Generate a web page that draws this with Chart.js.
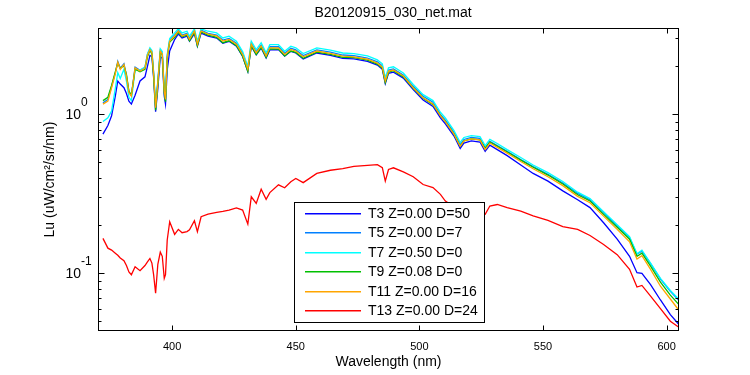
<!DOCTYPE html>
<html>
<head>
<meta charset="utf-8">
<script src="https://cdn.jsdelivr.net/npm/chart.js"></script>
<style>
html, body { margin: 0; padding: 0; background: #fff; }
#wrap { width: 750px; height: 375px; }
</style>
</head>
<body>
<div id="wrap"><canvas id="myChart"></canvas></div>
<script>
const chartTitle = 'B20120915_030_net.mat';

const wavelengths = [
    372, 374, 375.5, 377, 378, 379, 380.5, 381.5, 382.5, 383.5,
    385, 387, 389, 390, 391, 391.8, 392.5, 393.3, 394.2, 395.2,
    396, 396.8, 397.3, 398, 399, 401, 402.5, 404, 406, 407,
    409, 410.2, 411.7, 414.5, 418, 420.5, 423, 426, 428.5, 430.6,
    432, 434, 436, 438, 439.5, 443, 445.5, 448, 450, 453,
    458.5, 464, 469, 473.5, 479, 483, 485, 486.2, 487.5, 489.5,
    493.5, 497.5, 501.5, 505.5, 508.5, 510.5, 514, 516.5, 518, 521,
    524.5, 526.6, 528.5, 531.5, 535.5, 541, 546, 552, 558, 564,
    569, 574.5, 580, 585, 588, 590, 593.5, 597.5, 601.5, 604.8
];

const t3 = [
    0.75, 0.85, 0.98, 1.30, 1.62, 1.55, 1.47, 1.35, 1.21, 1.16,
    1.32, 1.62, 1.72, 2.00, 2.35, 2.30, 1.70, 1.04, 1.45, 2.30,
    2.25, 1.30, 1.16, 1.90, 2.50, 2.95, 3.20, 3.02, 3.10, 2.88,
    3.22, 2.68, 3.24, 3.10, 3.02, 2.80, 2.88, 2.68, 2.31, 1.86,
    2.68, 2.37, 2.61, 2.26, 2.54, 2.55, 2.32, 2.49, 2.43, 2.23,
    2.43, 2.35, 2.25, 2.23, 2.15, 2.04, 1.92, 1.56, 1.81, 1.84,
    1.69, 1.43, 1.23, 1.12, 0.95, 0.87, 0.73, 0.61, 0.66, 0.68,
    0.67, 0.585, 0.64, 0.60, 0.55, 0.48, 0.425, 0.38, 0.33, 0.29,
    0.259, 0.208, 0.164, 0.128, 0.101, 0.10, 0.085, 0.068, 0.055, 0.048
];
const t5 = [
    1.18, 1.24, 1.50, 1.82, 2.15, 1.95, 2.08, 1.76, 1.38, 1.31,
    1.98, 1.89, 1.97, 2.38, 2.58, 2.48, 1.82, 1.12, 1.60, 2.53,
    2.43, 1.42, 1.26, 2.33, 2.93, 3.15, 3.38, 3.15, 3.23, 3.00,
    3.38, 2.80, 3.38, 3.23, 3.15, 2.93, 3.00, 2.80, 2.42, 1.95,
    2.80, 2.48, 2.73, 2.37, 2.66, 2.66, 2.42, 2.60, 2.54, 2.34,
    2.54, 2.46, 2.36, 2.34, 2.26, 2.14, 2.02, 1.65, 1.90, 1.93,
    1.77, 1.50, 1.30, 1.19, 1.00, 0.92, 0.77, 0.645, 0.695, 0.715,
    0.705, 0.615, 0.675, 0.635, 0.585, 0.52, 0.47, 0.42, 0.37, 0.318,
    0.29, 0.24, 0.199, 0.168, 0.132, 0.138, 0.115, 0.092, 0.077, 0.068
];
const t7 = [
    0.90, 0.95, 1.05, 1.45, 1.83, 1.68, 1.92, 1.62, 1.28, 1.22,
    1.90, 1.90, 1.98, 2.40, 2.62, 2.52, 1.85, 1.14, 1.63, 2.58,
    2.48, 1.45, 1.28, 2.38, 3.00, 3.25, 3.45, 3.25, 3.33, 3.10,
    3.45, 2.88, 3.45, 3.33, 3.25, 3.02, 3.10, 2.88, 2.48, 2.00,
    2.88, 2.55, 2.82, 2.44, 2.74, 2.74, 2.49, 2.68, 2.62, 2.41,
    2.62, 2.53, 2.43, 2.41, 2.33, 2.20, 2.08, 1.70, 1.96, 1.99,
    1.82, 1.54, 1.33, 1.22, 1.03, 0.95, 0.79, 0.665, 0.715, 0.735,
    0.725, 0.635, 0.695, 0.655, 0.60, 0.535, 0.48, 0.43, 0.378, 0.324,
    0.295, 0.244, 0.202, 0.17, 0.133, 0.14, 0.116, 0.093, 0.078, 0.069
];
const t9 = [
    1.22, 1.28, 1.52, 1.85, 2.10, 1.95, 2.02, 1.78, 1.40, 1.32,
    1.92, 1.85, 1.92, 2.30, 2.52, 2.40, 1.75, 1.06, 1.55, 2.45,
    2.38, 1.36, 1.20, 2.25, 2.85, 3.05, 3.28, 3.08, 3.15, 2.90,
    3.28, 2.70, 3.30, 3.15, 3.05, 2.82, 2.90, 2.70, 2.32, 1.86,
    2.70, 2.38, 2.64, 2.28, 2.58, 2.57, 2.33, 2.50, 2.45, 2.25,
    2.46, 2.38, 2.28, 2.27, 2.19, 2.07, 1.95, 1.58, 1.84, 1.88,
    1.72, 1.46, 1.26, 1.15, 0.98, 0.90, 0.75, 0.63, 0.68, 0.70,
    0.69, 0.61, 0.67, 0.63, 0.58, 0.515, 0.465, 0.415, 0.365, 0.312,
    0.285, 0.235, 0.195, 0.164, 0.128, 0.134, 0.111, 0.088, 0.073, 0.064
];
const t11 = [
    1.16, 1.21, 1.47, 1.80, 2.13, 1.92, 2.06, 1.74, 1.37, 1.30,
    1.96, 1.87, 1.95, 2.35, 2.55, 2.45, 1.80, 1.10, 1.58, 2.50,
    2.40, 1.40, 1.24, 2.30, 2.89, 3.11, 3.34, 3.11, 3.19, 2.96,
    3.34, 2.76, 3.34, 3.19, 3.11, 2.89, 2.96, 2.76, 2.38, 1.92,
    2.76, 2.44, 2.69, 2.33, 2.62, 2.62, 2.38, 2.56, 2.50, 2.30,
    2.50, 2.42, 2.32, 2.30, 2.22, 2.10, 1.98, 1.62, 1.87, 1.90,
    1.74, 1.47, 1.27, 1.16, 0.98, 0.90, 0.75, 0.63, 0.68, 0.70,
    0.69, 0.60, 0.66, 0.62, 0.57, 0.505, 0.455, 0.405, 0.356, 0.305,
    0.278, 0.229, 0.189, 0.158, 0.123, 0.129, 0.106, 0.083, 0.069, 0.059
];
const t13 = [
    0.166, 0.144, 0.140, 0.134, 0.130, 0.125, 0.120, 0.112, 0.102, 0.098,
    0.110, 0.104, 0.112, 0.118, 0.124, 0.116, 0.098, 0.075, 0.114, 0.136,
    0.128, 0.093, 0.098, 0.162, 0.211, 0.176, 0.189, 0.180, 0.183, 0.188,
    0.214, 0.183, 0.227, 0.236, 0.242, 0.245, 0.250, 0.258, 0.250, 0.204,
    0.303, 0.275, 0.338, 0.292, 0.322, 0.360, 0.345, 0.377, 0.395, 0.372,
    0.425, 0.445, 0.455, 0.470, 0.478, 0.483, 0.462, 0.380, 0.450, 0.461,
    0.435, 0.405, 0.362, 0.346, 0.314, 0.285, 0.262, 0.245, 0.240, 0.238,
    0.237, 0.235, 0.265, 0.271, 0.259, 0.246, 0.230, 0.215, 0.197, 0.189,
    0.173, 0.152, 0.131, 0.106, 0.082, 0.084, 0.072, 0.060, 0.050, 0.046
];

const seriesLabels = ['T3 Z=0.00 D=50', 'T5 Z=0.00 D=7', 'T7 Z=0.50 D=0', 'T9 Z=0.08 D=0', 'T11 Z=0.00 D=16', 'T13 Z=0.00 D=24'];
const seriesColors = ['#0000ff', '#0080ff', '#00ffff', '#00c000', '#ffa500', '#ff0000'];
const seriesValues = [t3, t5, t7, t9, t11, t13];

const xTicks = [400, 450, 500, 550, 600];
const yTicks = [0.05, 0.06, 0.07, 0.08, 0.09, 0.1, 0.2, 0.3, 0.4, 0.5, 0.6, 0.7, 0.8, 0.9, 1, 2, 3];

const FONT = "'Liberation Sans', Arial, sans-serif";
Chart.defaults.font.family = FONT;
Chart.defaults.color = '#000';

// matlab style box, inward ticks, 10^n labels, title and legend
const matlabAxes = {
    id: 'matlabAxes',
    afterDraw(chart) {
        const {ctx, chartArea: a, scales: {x, y}} = chart;
        ctx.save();
        ctx.strokeStyle = '#000';
        ctx.lineWidth = 1;
        const L = Math.round(a.left) + 0.5, R = Math.round(a.right) - 0.5;
        const T = Math.round(a.top) + 0.5, B = Math.round(a.bottom) - 0.5;
        ctx.strokeRect(L, T, R - L, B - T);

        ctx.beginPath();
        xTicks.forEach(v => {
            const px = Math.round(x.getPixelForValue(v)) + 0.5;
            ctx.moveTo(px, B); ctx.lineTo(px, B - 5);
            ctx.moveTo(px, T); ctx.lineTo(px, T + 5);
        });
        y.ticks.forEach(t => {
            const py = Math.round(y.getPixelForValue(t.value)) + 0.5;
            const lg = Math.log10(t.value);
            const len = Math.abs(lg - Math.round(lg)) < 1e-9 ? 6 : 3;
            ctx.moveTo(L, py); ctx.lineTo(L + len, py);
            ctx.moveTo(R, py); ctx.lineTo(R - len, py);
        });
        ctx.stroke();

        // decade labels
        ctx.fillStyle = '#000';
        y.ticks.forEach(t => {
            const lg = Math.log10(t.value);
            if (Math.abs(lg - Math.round(lg)) > 1e-9) return;
            const py = y.getPixelForValue(t.value);
            ctx.font = '14px ' + FONT;
            ctx.textAlign = 'right';
            ctx.textBaseline = 'middle';
            ctx.fillText('10', 81, py + 1);
            ctx.font = '12px ' + FONT;
            ctx.textAlign = 'left';
            ctx.fillText(String(Math.round(lg)), 81, py - 12);
        });

        // title
        ctx.font = '14px ' + FONT;
        ctx.textAlign = 'center';
        ctx.textBaseline = 'middle';
        ctx.fillText(chartTitle, 393, 13);

        // legend
        const lx = 294.5, ly = 202.5, lw = 190, lh = 120;
        ctx.fillStyle = '#fff';
        ctx.fillRect(lx, ly, lw, lh);
        ctx.strokeStyle = '#000';
        ctx.lineWidth = 1;
        ctx.strokeRect(lx, ly, lw, lh);
        chart.data.datasets.forEach((ds, i) => {
            const ry = Math.round(212.5 + i * 19.5);
            ctx.fillStyle = ds.borderColor;
            ctx.fillRect(305, ry, 56, 1.5);
            ctx.fillStyle = '#000';
            ctx.font = '14px ' + FONT;
            ctx.textAlign = 'left';
            ctx.textBaseline = 'middle';
            ctx.fillText(ds.label, 368, ry + 1);
        });
        ctx.restore();
    }
};

const datasets = seriesValues.map((vals, i) => ({
    label: seriesLabels[i],
    data: wavelengths.map((w, j) => ({x: w, y: vals[j]})),
    borderColor: seriesColors[i],
    backgroundColor: seriesColors[i],
    borderWidth: 1.3,
    pointRadius: 0,
    tension: 0,
    order: seriesValues.length - i
}));

new Chart(document.getElementById('myChart'), {
    type: 'line',
    data: { datasets: datasets },
    options: {
        responsive: true,
        maintainAspectRatio: false,
        animation: false,
        devicePixelRatio: 1,
        layout: { padding: { left: 0, right: 71, top: 28, bottom: 0 } },
        plugins: {
            legend: { display: false },
            title: { display: false },
            tooltip: { enabled: false }
        },
        scales: {
            x: {
                type: 'linear',
                min: 370,
                max: 605,
                afterBuildTicks: s => { s.ticks = xTicks.map(v => ({value: v})); },
                afterFit: s => { s.height = 44; },
                grid: { display: false, drawTicks: false },
                border: { display: false },
                ticks: { font: { size: 11 }, color: '#000', maxRotation: 0, autoSkip: false, padding: 9 },
                title: {
                    display: true,
                    text: 'Wavelength (nm)',
                    font: { size: 14 },
                    color: '#000',
                    padding: { top: 0, bottom: 4 }
                }
            },
            y: {
                type: 'logarithmic',
                min: 0.0434,
                max: 3.49,
                afterBuildTicks: s => { s.ticks = yTicks.map(v => ({value: v})); },
                afterFit: s => { s.width = 98; },
                grid: { display: false },
                border: { display: false },
                ticks: { display: false },
                title: {
                    display: true,
                    text: 'Lu (uW/cm²/sr/nm)',
                    font: { size: 14 },
                    color: '#000',
                    padding: { top: 42, bottom: 0 }
                }
            }
        }
    },
    plugins: [matlabAxes]
});
</script>
</body>
</html>
